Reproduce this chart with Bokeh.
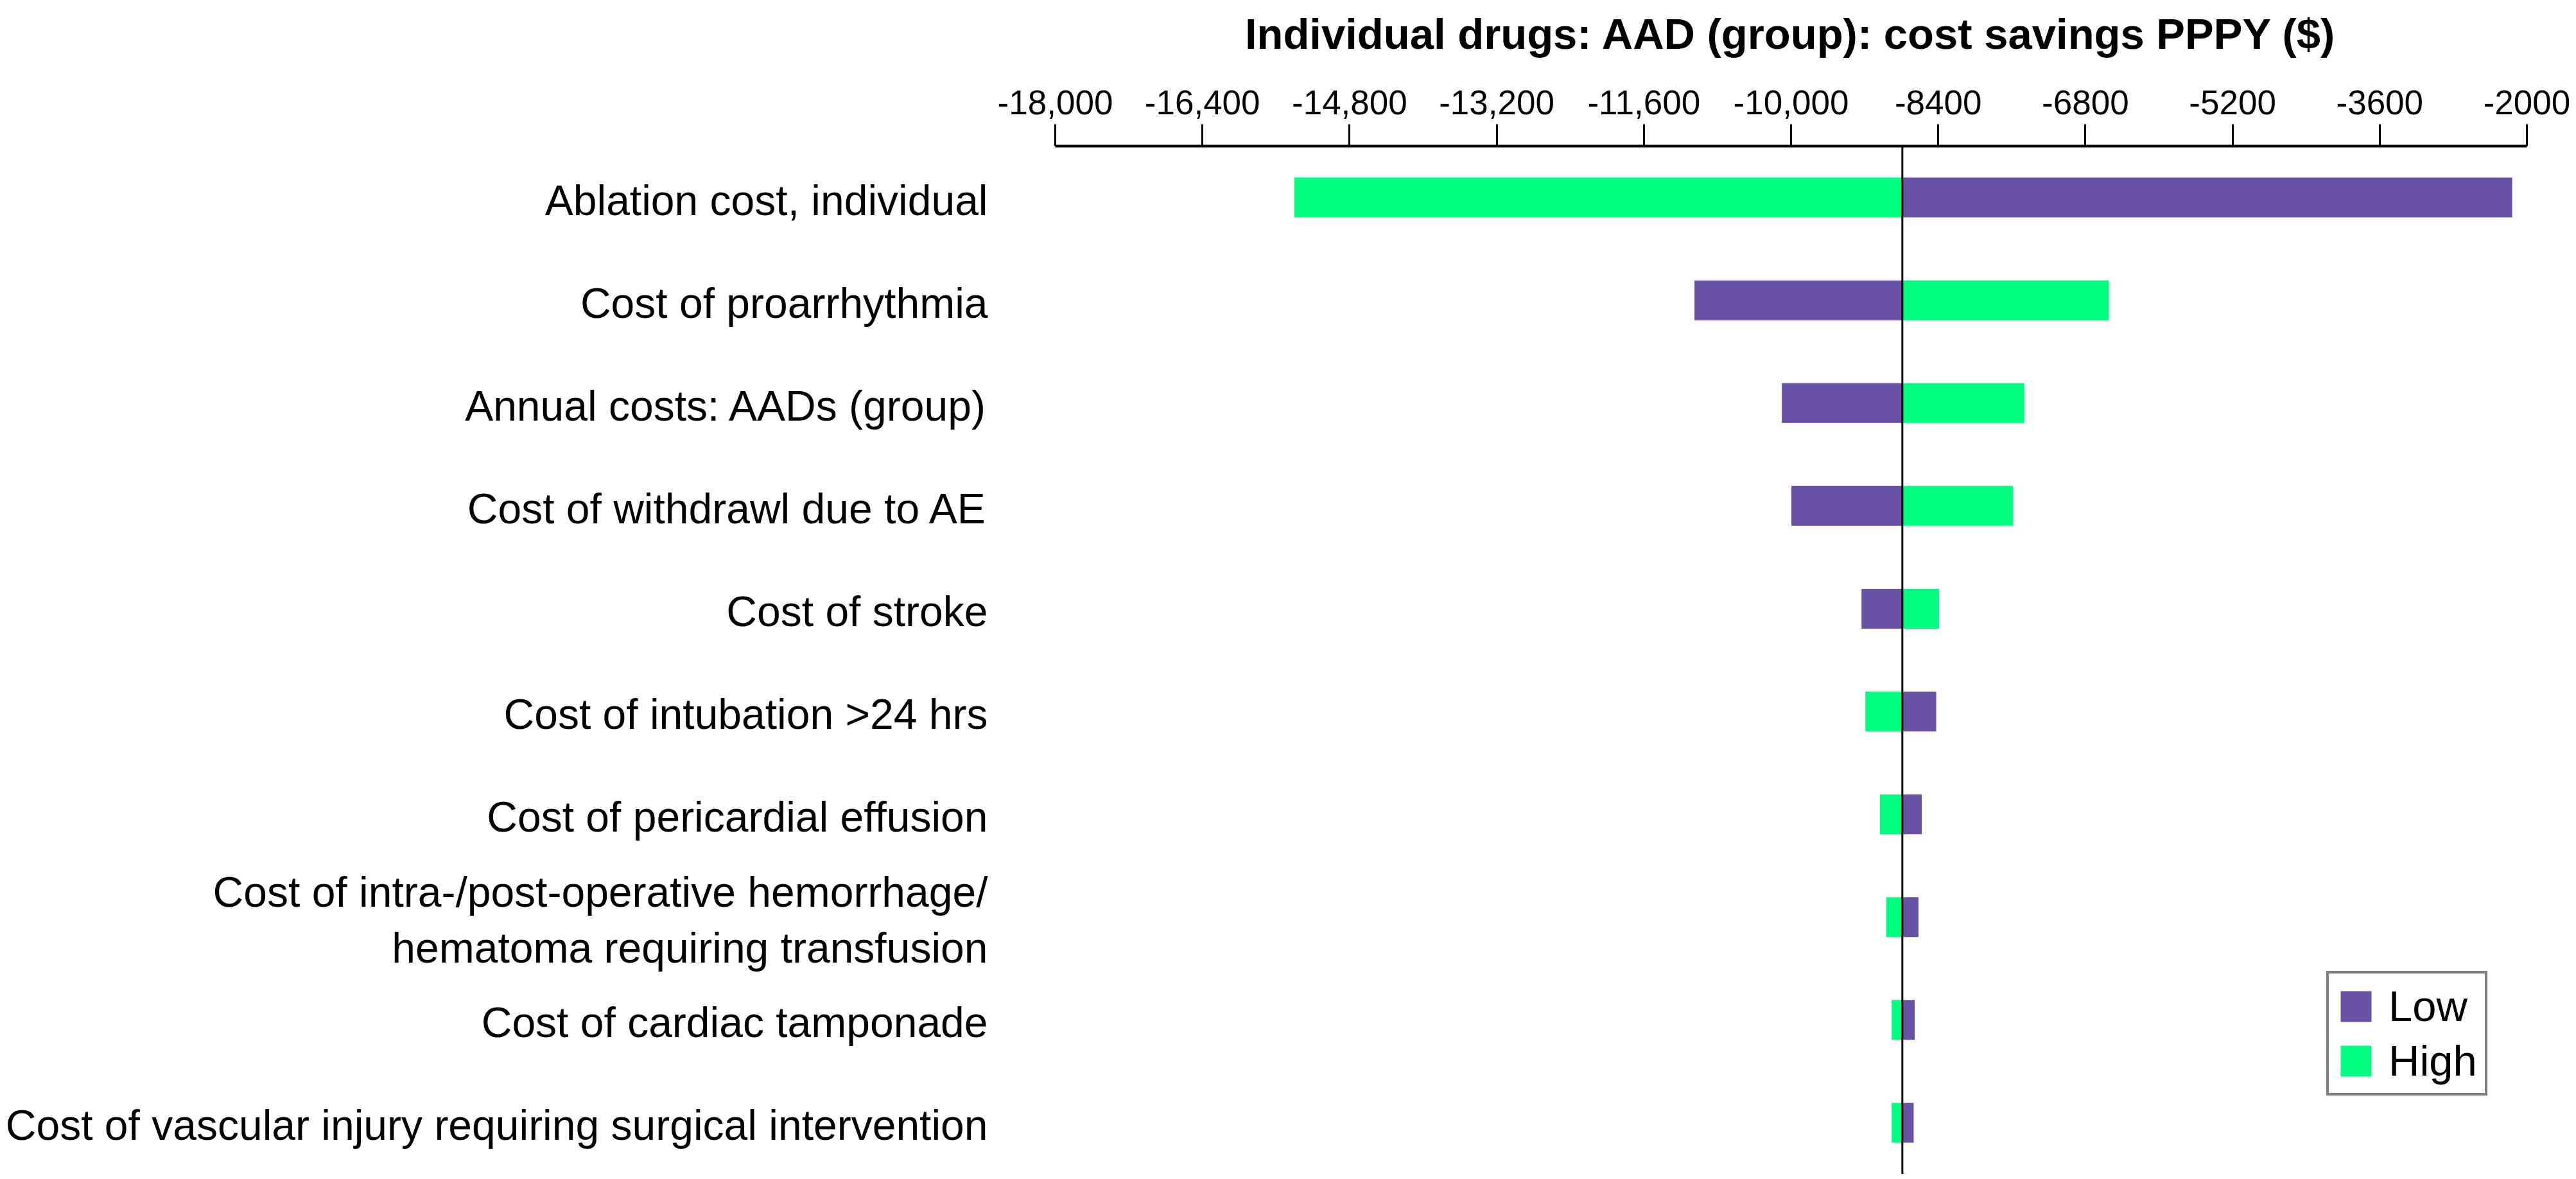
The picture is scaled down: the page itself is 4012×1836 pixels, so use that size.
from bokeh.plotting import figure
from bokeh.layouts import column
from bokeh.models import Range1d, FixedTicker, Span, Legend, LegendItem, ColumnDataSource
from bokeh.embed import file_html
from bokeh.resources import INLINE
from bokeh.core.properties import value

# ---------------- data ----------------
categories = [
    "Ablation cost, individual",
    "Cost of proarrhythmia",
    "Annual costs: AADs (group)",
    "Cost of withdrawl due to AE",
    "Cost of stroke",
    "Cost of intubation >24 hrs",
    "Cost of pericardial effusion",
    "Cost of intra-/post-operative hemorrhage/\nhematoma requiring transfusion",
    "Cost of cardiac tamponade",
    "Cost of vascular injury requiring surgical intervention",
]
low_values = [-2160, -11050, -10100, -9997, -9234, -8422, -8579, -8615, -8656, -8667]
high_values = [-15400, -6545, -7464, -7586, -8391, -9192, -9034, -8965, -8906, -8906]
base_value = -8790
tick_values = [-18000, -16400, -14800, -13200, -11600, -10000, -8400, -6800, -5200, -3600, -2000]
tick_labels = ["-18,000", "-16,400", "-14,800", "-13,200", "-11,600", "-10,000",
               "-8400", "-6800", "-5200", "-3600", "-2000"]
title_text = "Individual drugs: AAD (group): cost savings PPPY ($)"
series_names = ["Low", "High"]

# ---------------- layout ----------------
W, H = 4004, 1828
TITLE_H = 100            # height of the title strip
FRAME_TOP = 227          # axis line position from the top of the page
AXIS_LEFT_PX = 1643
AXIS_RIGHT_PX = 3935
X_MIN, X_MAX = tick_values[0], tick_values[-1]
ppu = (AXIS_RIGHT_PX - AXIS_LEFT_PX) / (X_MAX - X_MIN)
x_start = X_MIN - AXIS_LEFT_PX / ppu
LABEL_RIGHT_PX = 1538
label_x = x_start + LABEL_RIGHT_PX / ppu
TITLE_BASELINE_PX = 52

PURPLE = "#6852A5"
GREEN = "#00FF80"
FONT = "Liberation Sans"

x_range = Range1d(x_start, X_MAX)

# ---- title strip ----
pt = figure(width=W, height=TITLE_H, output_backend="svg", toolbar_location=None,
            x_range=x_range, y_range=Range1d(TITLE_H, 0),
            x_axis_location=None, y_axis_location=None, title=None,
            min_border_left=0, min_border_right=W - AXIS_RIGHT_PX,
            min_border_top=0, min_border_bottom=0)
pt.outline_line_color = None
pt.grid.visible = False
pt.text(x=[(X_MIN + X_MAX) / 2], y=[TITLE_BASELINE_PX], text=[title_text],
        text_align="center", text_baseline="alphabetic",
        text_font=value(FONT), text_font_style="bold", text_font_size="67px",
        text_color="black")

# ---- main tornado chart ----
n = len(categories)
ys = list(range(n))
main_h = H - TITLE_H
row_px = (H - FRAME_TOP) / n
src = ColumnDataSource(dict(y=ys, base=[base_value] * n, low=low_values, high=high_values,
                            lab=categories, lx=[label_x] * n))

p = figure(width=W, height=main_h, output_backend="svg", toolbar_location=None,
           x_range=x_range, y_range=Range1d(n - 0.5, -0.5),
           x_axis_location="above", y_axis_location=None, title=None,
           min_border_left=0, min_border_right=W - AXIS_RIGHT_PX,
           min_border_top=FRAME_TOP - TITLE_H, min_border_bottom=0)
p.outline_line_color = None
p.grid.visible = False
p.background_fill_color = "white"
p.border_fill_color = "white"

bar_h = 62 / row_px
r_low = p.hbar(y="y", left="base", right="low", height=bar_h, source=src,
               fill_color=PURPLE, line_color=None)
r_high = p.hbar(y="y", left="base", right="high", height=bar_h, source=src,
                fill_color=GREEN, line_color=None)

p.text(x="lx", y="y", text="lab", source=src, text_align="right", text_baseline="middle",
       text_font=value(FONT), text_font_size="66px", text_color="black",
       text_line_height=1.17, y_offset=4)

p.add_layout(Span(location=base_value, dimension="height", line_color="black", line_width=3))

ax = p.xaxis[0]
ax.bounds = (X_MIN, X_MAX)
ax.ticker = FixedTicker(ticks=tick_values)
ax.major_label_overrides = {v: s for v, s in zip(tick_values, tick_labels)}
ax.axis_line_width = 4
ax.axis_line_color = "black"
ax.major_tick_line_width = 3
ax.major_tick_line_color = "black"
ax.major_tick_out = 34
ax.major_tick_in = 0
ax.minor_tick_line_color = None
ax.major_label_text_font = FONT
ax.major_label_text_font_size = "53px"
ax.major_label_text_color = "black"
ax.major_label_standoff = 16

legend = Legend(items=[LegendItem(label=series_names[0], renderers=[r_low]),
                       LegendItem(label=series_names[1], renderers=[r_high])],
                location=(3623, 122), orientation="vertical",
                glyph_width=60, glyph_height=60, label_height=60,
                label_standoff=21, padding=12, spacing=8,
                label_text_font=FONT, label_text_font_size="67px", label_text_color="black",
                border_line_color="black", border_line_width=4,
                background_fill_color="white", background_fill_alpha=1.0)
p.add_layout(legend)

layout = column(pt, p, spacing=0)
open("out.html", "w").write(file_html(layout, INLINE))
